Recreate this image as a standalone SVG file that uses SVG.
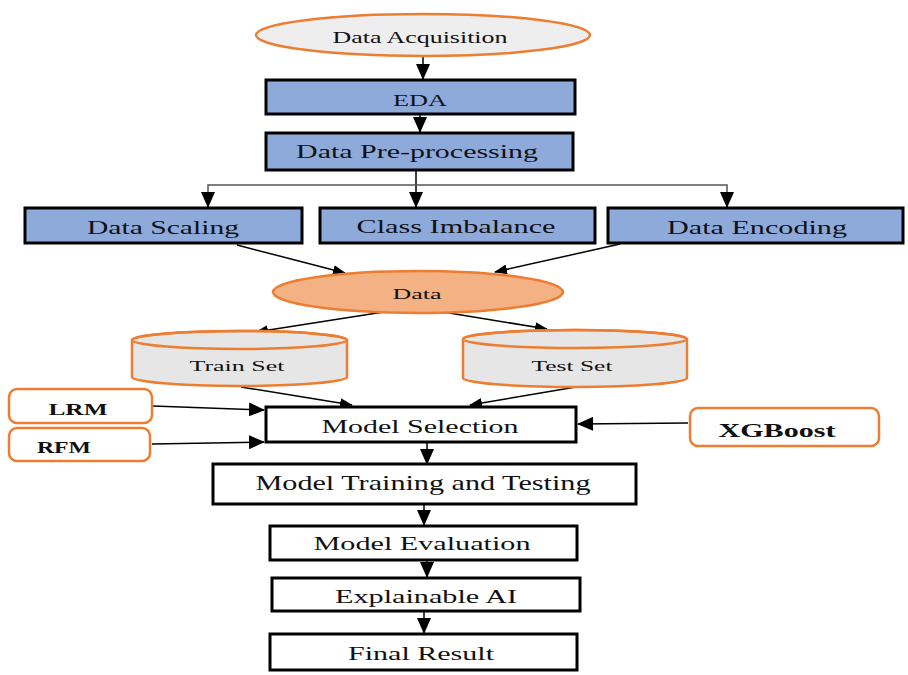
<svg xmlns="http://www.w3.org/2000/svg" width="908" height="675" viewBox="0 0 908 675">
<style>
.bg{fill:#ffffff}
.blue{fill:#8eaadb;stroke:#000;stroke-width:3}
.white{fill:#fff;stroke:#000;stroke-width:3}
.orng{fill:#fff;stroke:#ed7d31;stroke-width:2.5}
.cyl{fill:#e6e6e6;stroke:#ed7d31;stroke-width:2.5}
.t{font-family:"Liberation Serif","Times New Roman",serif;fill:#111;text-anchor:middle}
.b{font-weight:bold}
.c{fill:none;stroke:#000;stroke-width:1.5}
.g{fill:none;stroke:#555;stroke-width:1.5}
</style>
<defs>
<marker id="ah" markerUnits="userSpaceOnUse" markerWidth="16" markerHeight="14" viewBox="0 0 16 14" refX="15" refY="7" orient="auto">
<path d="M0,0 L16,7 L0,14 Z" fill="#000"/>
</marker>
<marker id="as" markerUnits="userSpaceOnUse" markerWidth="13" markerHeight="10" viewBox="0 0 13 10" refX="12" refY="5" orient="auto">
<path d="M0,0 L13,5 L0,10 Z" fill="#000"/>
</marker>
</defs>
<rect class="bg" x="0" y="0" width="908" height="675"/>

<g id="connectors">
<line class="c" x1="423" y1="57" x2="423" y2="79" marker-end="url(#ah)"/>
<line class="c" x1="420" y1="115" x2="420" y2="132" marker-end="url(#ah)"/>
<line class="c" x1="416" y1="171" x2="416" y2="207" marker-end="url(#ah)"/>
<polyline class="g" points="208,207 208,185 727,185 727,207"/>
<line class="c" x1="208" y1="195" x2="208" y2="207" marker-end="url(#ah)"/>
<line class="c" x1="727" y1="195" x2="727" y2="207" marker-end="url(#ah)"/>
<line class="c" x1="237" y1="245" x2="345" y2="273" marker-end="url(#as)"/>
<line class="c" x1="620" y1="244" x2="495" y2="272" marker-end="url(#as)"/>
<line class="c" x1="390" y1="311" x2="256" y2="332" marker-end="url(#as)"/>
<line class="c" x1="437" y1="311" x2="547" y2="329" marker-end="url(#as)"/>
<line class="c" x1="241" y1="387" x2="352" y2="405" marker-end="url(#as)"/>
<line class="c" x1="576" y1="387" x2="470" y2="405" marker-end="url(#as)"/>
<line class="c" x1="153" y1="406" x2="264" y2="410" marker-end="url(#ah)"/>
<line class="c" x1="152" y1="444" x2="264" y2="442" marker-end="url(#ah)"/>
<line class="c" x1="688" y1="423" x2="578" y2="424" marker-end="url(#ah)"/>
<line class="c" x1="427" y1="443" x2="427" y2="464" marker-end="url(#ah)"/>
<line class="c" x1="424" y1="505" x2="424" y2="525" marker-end="url(#ah)"/>
<line class="c" x1="427" y1="558" x2="427" y2="577" marker-end="url(#ah)"/>
<line class="c" x1="424" y1="612" x2="424" y2="633" marker-end="url(#ah)"/>
</g>

<g id="n-acq">
<ellipse cx="423" cy="35" rx="167" ry="21" fill="#eeeeee" stroke="#ed7d31" stroke-width="2.5"/>
<text class="t" x="420" y="43" font-size="17" textLength="175" lengthAdjust="spacingAndGlyphs">Data Acquisition</text>
</g>
<g id="n-eda">
<rect class="blue" x="266" y="80" width="309" height="34"/>
<text class="t" x="420" y="106" font-size="17" textLength="54" lengthAdjust="spacingAndGlyphs">EDA</text>
</g>
<g id="n-pre">
<rect class="blue" x="266" y="133" width="307" height="37"/>
<text class="t" x="417" y="158" font-size="19" textLength="242" lengthAdjust="spacingAndGlyphs">Data Pre-processing</text>
</g>
<g id="n-scaling">
<rect class="blue" x="25" y="208" width="277" height="35"/>
<text class="t" x="163" y="234" font-size="19" textLength="152" lengthAdjust="spacingAndGlyphs">Data Scaling</text>
</g>
<g id="n-imbalance">
<rect class="blue" x="320" y="208" width="275" height="35"/>
<text class="t" x="456" y="233" font-size="19" textLength="199" lengthAdjust="spacingAndGlyphs">Class Imbalance</text>
</g>
<g id="n-encoding">
<rect class="blue" x="608" y="208" width="295" height="35"/>
<text class="t" x="757" y="234" font-size="19" textLength="180" lengthAdjust="spacingAndGlyphs">Data Encoding</text>
</g>
<g id="n-data">
<ellipse cx="418" cy="292" rx="145" ry="21" fill="#f4b183" stroke="#ed7d31" stroke-width="2.5"/>
<text class="t" x="417" y="299" font-size="15" textLength="49" lengthAdjust="spacingAndGlyphs">Data</text>
</g>
<g id="n-train">
<path class="cyl" d="M132,340 L132,377 A107.5,9 0 0 0 347,377 L347,340 A107.5,9 0 0 0 132,340 Z"/>
<ellipse cx="239.5" cy="340" rx="107.5" ry="9" fill="none" stroke="#ed7d31" stroke-width="2.5"/>
<text class="t" x="237" y="371" font-size="15" textLength="95" lengthAdjust="spacingAndGlyphs">Train Set</text>
</g>
<g id="n-test">
<path class="cyl" d="M463,339 L463,378 A112,9 0 0 0 687,378 L687,339 A112,9 0 0 0 463,339 Z"/>
<ellipse cx="575" cy="339" rx="112" ry="9" fill="none" stroke="#ed7d31" stroke-width="2.5"/>
<text class="t" x="572" y="371" font-size="15" textLength="81" lengthAdjust="spacingAndGlyphs">Test Set</text>
</g>
<g id="n-lrm">
<rect class="orng" x="9" y="389" width="143" height="34" rx="8"/>
<text class="t b" x="78" y="415" font-size="16" textLength="59" lengthAdjust="spacingAndGlyphs">LRM</text>
</g>
<g id="n-rfm">
<rect class="orng" x="9" y="428" width="141" height="33" rx="8"/>
<text class="t b" x="64" y="453" font-size="16" textLength="54" lengthAdjust="spacingAndGlyphs">RFM</text>
</g>
<g id="n-xgb">
<rect class="orng" x="690" y="408" width="189" height="38" rx="8"/>
<text class="t b" x="777" y="437" font-size="19" textLength="117" lengthAdjust="spacingAndGlyphs">XGBoost</text>
</g>
<g id="n-select">
<rect class="white" x="266" y="407" width="310" height="35"/>
<text class="t" x="420" y="433" font-size="19" textLength="197" lengthAdjust="spacingAndGlyphs">Model Selection</text>
</g>
<g id="n-train-test">
<rect class="white" x="213" y="464" width="423" height="40"/>
<text class="t" x="423" y="490" font-size="21" textLength="335" lengthAdjust="spacingAndGlyphs">Model Training and Testing</text>
</g>
<g id="n-eval">
<rect class="white" x="270" y="526" width="307" height="34"/>
<text class="t" x="422" y="550" font-size="19" textLength="217" lengthAdjust="spacingAndGlyphs">Model Evaluation</text>
</g>
<g id="n-xai">
<rect class="white" x="272" y="578" width="308" height="33"/>
<text class="t" x="426" y="603" font-size="18" textLength="182" lengthAdjust="spacingAndGlyphs">Explainable AI</text>
</g>
<g id="n-final">
<rect class="white" x="270" y="634" width="307" height="36"/>
<text class="t" x="421" y="660" font-size="18" textLength="146" lengthAdjust="spacingAndGlyphs">Final Result</text>
</g>
</svg>
